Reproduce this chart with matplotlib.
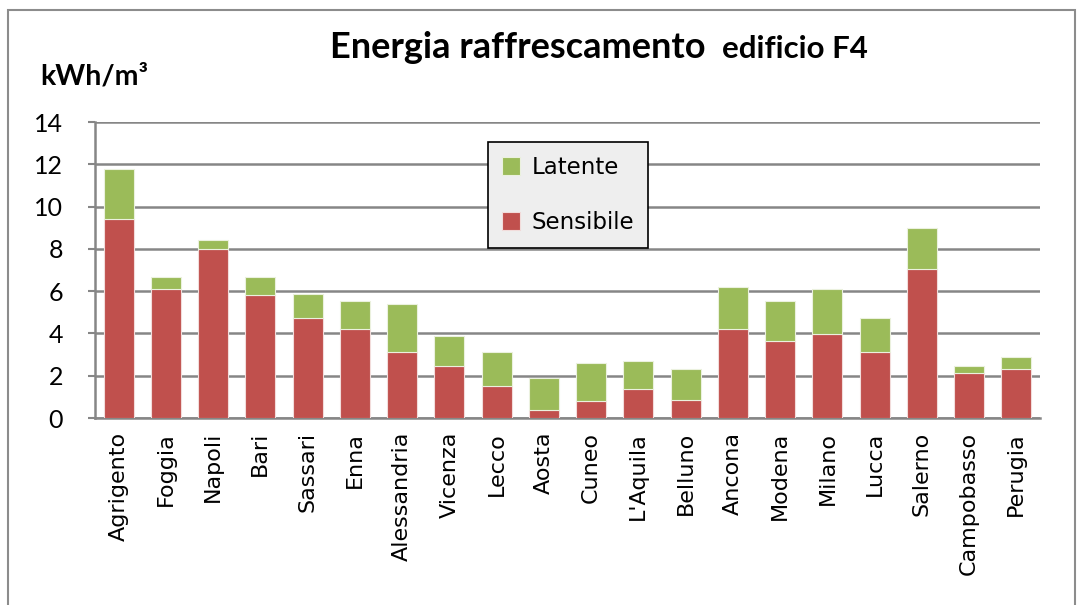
import matplotlib.pyplot as plt
import numpy as np
from matplotlib.patches import Rectangle

cities = ['Agrigento', 'Foggia', 'Napoli', 'Bari', 'Sassari', 'Enna', 'Alessandria',
          'Vicenza', 'Lecco', 'Aosta', 'Cuneo', "L'Aquila", 'Belluno', 'Ancona',
          'Modena', 'Milano', 'Lucca', 'Salerno', 'Campobasso', 'Perugia']
sensibile = [9.4, 6.1, 8.0, 5.8, 4.75, 4.2, 3.1, 2.45, 1.5, 0.4, 0.8, 1.35, 0.87, 4.2,
             3.65, 3.95, 3.1, 7.05, 2.15, 2.3]
totale = [11.8, 6.65, 8.4, 6.65, 5.85, 5.55, 5.4, 3.87, 3.1, 1.9, 2.62, 2.7, 2.3, 6.2,
          5.55, 6.1, 4.75, 9.0, 2.45, 2.88]
latente = [t - s for t, s in zip(totale, sensibile)]
yticks = [0, 2, 4, 6, 8, 10, 12, 14]

red = '#C0504D'
green = '#9BBB59'
grid = '#868686'

fig = plt.figure(figsize=(10.84, 6.05), dpi=100)
fig.patches.append(Rectangle((8/1084, -0.1), 1067/1084, 1.1 - 10/605,
                             transform=fig.transFigure, fill=False,
                             edgecolor='#8c8c8c', linewidth=1.5))
ax = fig.add_axes([95/1084, 1 - 418/605, 945/1084, 296/605])

x = np.arange(len(cities))
ax.bar(x, sensibile, width=0.64, color=red, edgecolor='#f2dcdb', linewidth=0.8,
       label='Sensibile', zorder=3)
ax.bar(x, latente, width=0.64, bottom=sensibile, color=green, edgecolor='#ebf1de',
       linewidth=0.8, label='Latente', zorder=3)

ax.set_xlim(-0.5, len(cities) - 0.5)
ax.set_ylim(0, 14)
ax.set_yticks(yticks)
ax.set_yticklabels([str(v) for v in yticks], fontsize=18, family='Lato')
ax.set_xticks(x)
ax.set_xticklabels(cities, rotation=90, fontsize=16, family='DejaVu Sans')
ax.tick_params(axis='x', length=0, pad=10)
ax.tick_params(axis='y', length=5, color=grid, width=1.5, pad=18)
ax.yaxis.grid(True, color=grid, linewidth=1.8, zorder=0)
ax.set_axisbelow(True)
for side in ['top', 'right']:
    ax.spines[side].set_visible(False)
ax.spines['left'].set_color(grid)
ax.spines['left'].set_linewidth(1.8)
ax.spines['bottom'].set_color(grid)
ax.spines['bottom'].set_linewidth(1.8)

h, l = ax.get_legend_handles_labels()
leg = ax.legend(h[::-1], l[::-1], loc='upper left', bbox_to_anchor=(393/945, 1 - 20/296),
                fontsize=16.5, frameon=True, fancybox=False, handlelength=0.8,
                handleheight=0.8, labelspacing=1.4, borderpad=0.6, handletextpad=0.5,
                borderaxespad=0)
leg.get_frame().set_facecolor('#eeeeee')
leg.get_frame().set_edgecolor('black')
leg.get_frame().set_linewidth(1.2)
leg.get_frame().set_alpha(1)

fig.text(330/1084, 1 - 58/605, 'Energia raffrescamento', fontsize=26, weight='bold',
         family='Lato', va='baseline', ha='left')
fig.text(722/1084, 1 - 58/605, 'edificio F4', fontsize=22.5, weight='bold',
         family='Lato', va='baseline', ha='left')
fig.text(40/1084, 1 - 84/605, 'kWh/m³', fontsize=20.5, weight='bold',
         family='Lato', va='baseline', ha='left')

plt.savefig('out.png', dpi=100)
